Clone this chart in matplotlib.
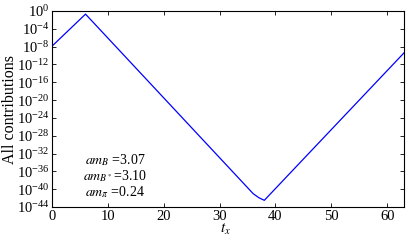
import matplotlib
matplotlib.use("Agg")
import matplotlib.pyplot as plt
import numpy as np

# data (log10 of the contributions at key t_x)
t_x = [0, 6, 36, 37, 38, 63]
log_contrib = [-7.9, -0.7, -41.0, -41.9, -42.5, -9.4]
contrib = [10.0 ** v for v in log_contrib]

yticks = [10.0 ** e for e in range(0, -45, -4)]
xticks = [0, 10, 20, 30, 40, 50, 60]

plt.rcParams['font.family'] = ['Liberation Serif', 'DejaVu Serif']
plt.rcParams['mathtext.fontset'] = 'stix'

fig = plt.figure(figsize=(4.08, 2.40), dpi=100)
ax = fig.add_axes([52/408, 1 - 207/240, (404-52)/408, (207-11)/240])
ax.plot(t_x, contrib, color='#0000ff', lw=0.9)
ax.set_yscale('log')
ax.set_xlim(0, 63)
ax.set_ylim(1e-44, 1e0)
ax.set_yticks(yticks)
ax.set_xticks(xticks)
ax.yaxis.set_minor_locator(matplotlib.ticker.NullLocator())
ax.tick_params(direction='in', top=True, right=True, labelsize=10.5, length=3, width=0.6, pad=2)
ax.set_xlabel('$t_x$', fontsize=11)
ax.xaxis.set_label_coords(0.494, -0.075)
ax.set_ylabel('All contributions', fontsize=11.5)
ax.yaxis.set_label_coords(-0.097, 0.5)
for s in ax.spines.values():
    s.set_linewidth(0.8)
ax.text(115/408, 1 - 176/240, '$am_B$ =3.07\n$am_{B^*}$=3.10\n$am_\\pi$ =0.24',
        transform=fig.transFigure, ha='center', va='center', multialignment='center',
        fontsize=10, linespacing=1.0)
fig.savefig('out.png', dpi=100)
